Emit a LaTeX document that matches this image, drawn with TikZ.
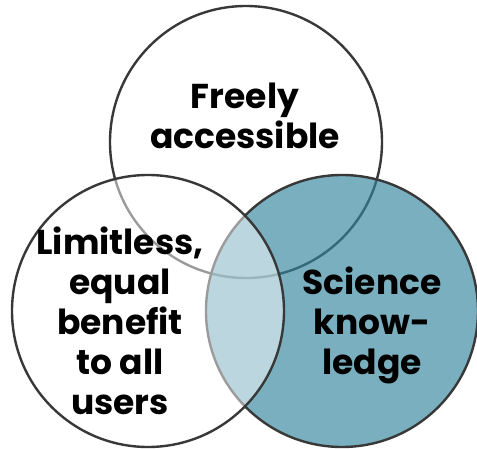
\documentclass[tikz,border=0pt]{standalone}
\usepackage{fontspec}
\setmainfont{Poppins}
\usetikzlibrary{positioning}
\definecolor{ringgray}{HTML}{383838}
\definecolor{sciteal}{HTML}{31849B}
\tikzset{
	% one ring of the diagram
	ring/.style={
		circle,
		inner sep=0,
		minimum size=272pt,
		draw=ringgray,
		line width=2.4pt},
	% text inside a ring
	lbl/.style={
		align=center,
		inner sep=0,
		font=\bfseries\fontsize{34.5}{40}\selectfont}
}

\begin{document}
\begin{tikzpicture}[x=1pt,y=1pt]
	\useasboundingbox (0,0) rectangle (477,448);
	\coordinate (TOP) at (246,306);
	\coordinate (LFT) at (148,137);
	\coordinate (RGT) at (342,137);
	%rings, drawn back to front
	\node[ring] (access) at (TOP) {};
	\node[ring,fill=sciteal,fill opacity=0.65] (science) at (RGT) {};
	\node[ring,fill=white,fill opacity=0.5] (benefit) at (LFT) {};
	%labels
	\node[lbl] (t1) at (245,332) {Freely\\accessible};
	\node[lbl] (t2) at (120,127) {Limitless,\\equal\\benefit\\to all\\users};
	\node[lbl] (t3) at (372,123) {Science\\know-\\ledge};
\end{tikzpicture}
\end{document}
